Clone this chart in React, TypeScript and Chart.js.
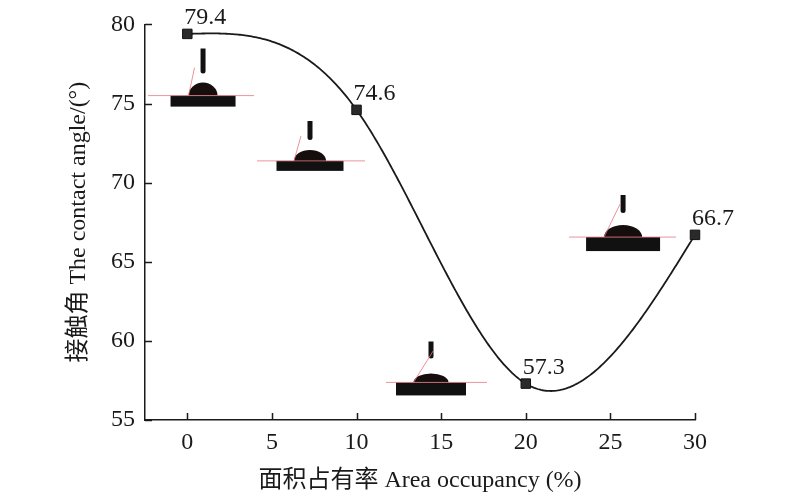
import { useEffect, useRef } from 'react';
import { Chart, registerables } from 'chart.js';

Chart.register(...registerables);

const occupancy = [0, 10, 20, 30];
const contactAngle = [79.4, 74.6, 57.3, 66.7];
const xTicks = [0, 5, 10, 15, 20, 25, 30];
const yTicks = [55, 60, 65, 70, 75, 80];

const FONT = "'Liberation Serif', 'Times New Roman', 'Noto Sans CJK SC', serif";
const INK = '#1a1a1a';

// little droplet photos: anchored at the contact line (data units), sizes in px
const droplets = [
  { x: 0.93, y: 75.5, cap: [14.5, 13], sub: [65, 11], base: [-55, 51], needle: [9, 25], tan: [6, -28] },
  { x: 7.25, y: 71.375, cap: [16, 11], sub: [67, 10], base: [-53, 55], needle: [10, 19], tan: [7, -25] },
  { x: 25.75, y: 66.56, cap: [19, 12], sub: [74, 14], base: [-54, 53], needle: [12, 18], tan: [16, -33] },
  { x: 14.4, y: 57.375, cap: [17.5, 9], sub: [70, 13], base: [-45, 56], needle: [15, 17], tan: [20, -32] },
];

// natural cubic spline through the measured points (the curve of the original plot)
function naturalSpline(xs: number[], ys: number[]) {
  const n = xs.length;
  const h = xs.slice(1).map((x, i) => x - xs[i]);
  const M = new Array(n).fill(0);
  const cp: number[] = [];
  const dp: number[] = [];
  for (let i = 1; i < n - 1; i++) {
    const a = h[i - 1];
    const b = 2 * (h[i - 1] + h[i]);
    const c = h[i];
    const d = 6 * ((ys[i + 1] - ys[i]) / h[i] - (ys[i] - ys[i - 1]) / h[i - 1]);
    const prevC = i > 1 ? cp[i - 1] : 0;
    const prevD = i > 1 ? dp[i - 1] : 0;
    const denom = b - a * prevC;
    cp[i] = c / denom;
    dp[i] = (d - a * prevD) / denom;
  }
  for (let i = n - 2; i >= 1; i--) {
    M[i] = dp[i] - cp[i] * M[i + 1];
  }
  return (x: number) => {
    let i = 0;
    while (i < n - 2 && x > xs[i + 1]) i++;
    const hi = h[i];
    const A = xs[i + 1] - x;
    const B = x - xs[i];
    return (
      (M[i] * A * A * A) / (6 * hi) +
      (M[i + 1] * B * B * B) / (6 * hi) +
      (ys[i] / hi - (M[i] * hi) / 6) * A +
      (ys[i + 1] / hi - (M[i + 1] * hi) / 6) * B
    );
  };
}

const decorPlugin = {
  id: 'decor',
  beforeDatasetsDraw(chart: any) {
    const { ctx, scales } = chart;
    const sx = scales.x;
    const sy = scales.y;
    ctx.save();
    // droplets
    droplets.forEach((d) => {
      const cx = sx.getPixelForValue(d.x);
      const by = sy.getPixelForValue(d.y);
      ctx.fillStyle = '#111';
      ctx.fillRect(cx - d.sub[0] / 2, by, d.sub[0], d.sub[1]);
      ctx.beginPath();
      ctx.ellipse(cx, by, d.cap[0], d.cap[1], 0, Math.PI, 2 * Math.PI);
      ctx.closePath();
      ctx.fillStyle = '#160d0d';
      ctx.fill();
      // needle
      const ny = by - d.cap[1] - d.needle[0];
      ctx.fillStyle = '#111';
      ctx.beginPath();
      ctx.moveTo(cx - 2.5, ny - d.needle[1]);
      ctx.lineTo(cx + 2.5, ny - d.needle[1]);
      ctx.lineTo(cx + 2.5, ny - 2.5);
      ctx.arc(cx, ny - 2.5, 2.5, 0, Math.PI);
      ctx.closePath();
      ctx.fill();
      // baseline and tangent
      ctx.strokeStyle = 'rgba(230,120,130,0.8)';
      ctx.lineWidth = 1;
      ctx.beginPath();
      ctx.moveTo(cx + d.base[0], by);
      ctx.lineTo(cx + d.base[1], by);
      const lx = cx - d.cap[0];
      ctx.moveTo(lx, by);
      ctx.lineTo(lx + d.tan[0], by + d.tan[1]);
      ctx.stroke();
    });
    // fitted curve
    const f = naturalSpline(occupancy, contactAngle);
    const x0 = occupancy[0];
    const x1 = occupancy[occupancy.length - 1];
    ctx.strokeStyle = INK;
    ctx.lineWidth = 1.8;
    ctx.beginPath();
    for (let k = 0; k <= 300; k++) {
      const xv = x0 + ((x1 - x0) * k) / 300;
      const px = sx.getPixelForValue(xv);
      const py = sy.getPixelForValue(f(xv));
      if (k === 0) ctx.moveTo(px, py);
      else ctx.lineTo(px, py);
    }
    ctx.stroke();
    ctx.restore();
  },
  afterDatasetsDraw(chart: any) {
    const { ctx, scales } = chart;
    ctx.save();
    // value labels
    ctx.font = `24px ${FONT}`;
    ctx.fillStyle = INK;
    ctx.textAlign = 'left';
    ctx.textBaseline = 'alphabetic';
    const meta = chart.getDatasetMeta(0);
    meta.data.forEach((pt: any, i: number) => {
      ctx.fillText(contactAngle[i].toFixed(1), pt.x - 3, pt.y - 9.5);
    });
    // inward tick marks
    ctx.strokeStyle = INK;
    ctx.lineWidth = 1.5;
    ctx.beginPath();
    const bottom = chart.chartArea.bottom;
    const left = chart.chartArea.left;
    scales.x.ticks.forEach((t: any) => {
      const px = Math.round(scales.x.getPixelForValue(t.value)) + 0.5;
      ctx.moveTo(px, bottom);
      ctx.lineTo(px, bottom - 7);
    });
    scales.y.ticks.forEach((t: any) => {
      const py = Math.round(scales.y.getPixelForValue(t.value)) + 0.5;
      ctx.moveTo(left, py);
      ctx.lineTo(left + 7, py);
    });
    ctx.stroke();
    ctx.restore();
  },
};

const App = () => {
  const canvasRef = useRef<HTMLCanvasElement>(null);
  const chartRef = useRef<Chart | null>(null);

  useEffect(() => {
    if (chartRef.current) chartRef.current.destroy();
    if (!canvasRef.current) return;

    chartRef.current = new Chart(canvasRef.current, {
      type: 'scatter',
      data: {
        datasets: [
          {
            label: 'contact angle',
            data: occupancy.map((x, i) => ({ x, y: contactAngle[i] })),
            showLine: false,
            pointStyle: 'rect',
            pointRadius: 6.7,
            pointHoverRadius: 6.7,
            backgroundColor: '#2a2a2a',
            borderColor: '#111',
            borderWidth: 1,
            clip: false,
          } as any,
        ],
      },
      options: {
        animation: false,
        responsive: true,
        maintainAspectRatio: false,
        layout: { padding: { left: 0, top: 20, right: 105, bottom: 0 } },
        plugins: {
          legend: { display: false },
          tooltip: { enabled: false },
        },
        scales: {
          x: {
            type: 'linear',
            min: -2.5,
            max: 30,
            afterBuildTicks: (s: any) => {
              s.ticks = xTicks.map((value) => ({ value }));
            },
            afterFit: (s: any) => {
              s.height = 77;
            },
            grid: { display: false, drawTicks: false },
            border: { display: true, color: INK, width: 1.5 },
            ticks: { color: INK, padding: 8, font: { family: FONT, size: 24 } },
            title: {
              display: true,
              text: '面积占有率 Area occupancy (%)',
              color: INK,
              font: { family: FONT, size: 24 },
              padding: { top: 0, bottom: 2 },
            },
          },
          y: {
            type: 'linear',
            min: 55,
            max: 80,
            afterBuildTicks: (s: any) => {
              s.ticks = yTicks.map((value) => ({ value }));
            },
            afterFit: (s: any) => {
              s.width = 145;
            },
            grid: { display: false, drawTicks: false },
            border: { display: true, color: INK, width: 1.5 },
            ticks: { color: INK, padding: 10, font: { family: FONT, size: 24 } },
            title: {
              display: true,
              text: '接触角 The contact angle/(°)',
              color: INK,
              font: { family: FONT, size: 24 },
              padding: { top: 64, bottom: 0 },
            },
          },
        },
      },
      plugins: [decorPlugin],
    });

    return () => {
      if (chartRef.current) {
        chartRef.current.destroy();
        chartRef.current = null;
      }
    };
  }, []);

  return (
    <div style={{ position: 'fixed', left: 0, top: 0, width: 800, height: 497, background: '#fff' }}>
      <canvas ref={canvasRef}></canvas>
    </div>
  );
};

export default App;
